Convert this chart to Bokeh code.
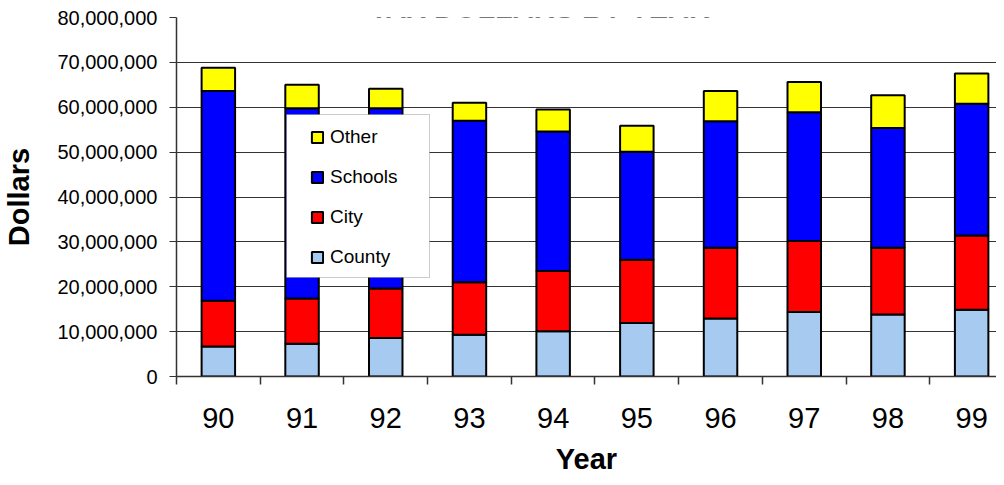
import numpy as np
from bokeh.plotting import figure
from bokeh.models import (ColumnDataSource, Range1d, FixedTicker, SingleIntervalTicker,
                          NumeralTickFormatter, Legend, LegendItem, BoxAnnotation, Label)
from bokeh.embed import file_html
from bokeh.resources import INLINE

title_text = "TAX DOLLARS BY YEAR"
x_title = "Year"
y_title = "Dollars"
years = ["90", "91", "92", "93", "94", "95", "96", "97", "98", "99"]
county = [6.7e6, 7.3e6, 8.6e6, 9.3e6, 10.1e6, 11.9e6, 12.9e6, 14.4e6, 13.8e6, 14.9e6]
city = [10.2e6, 10.1e6, 11.0e6, 11.7e6, 13.4e6, 14.1e6, 15.8e6, 15.8e6, 14.9e6, 16.5e6]
schools = [46.7e6, 42.4e6, 40.2e6, 36.0e6, 31.1e6, 24.1e6, 28.2e6, 28.7e6, 26.7e6, 29.4e6]
other = [5.2e6, 5.2e6, 4.3e6, 4.0e6, 4.9e6, 5.8e6, 6.7e6, 6.7e6, 7.3e6, 6.7e6]
series = ["County", "City", "Schools", "Other"]
colors = ["#A6CAF0", "#FF0000", "#0000FF", "#FFFF00"]

FONT = "Liberation Sans"

x = np.arange(len(years)) + 0.5
src = ColumnDataSource(dict(x=x, County=county, City=city, Schools=schools, Other=other))

W, H = 996, 477
p = figure(width=W, height=H, output_backend="svg", toolbar_location=None,
           x_range=Range1d(0, 9.797), y_range=Range1d(0, 80_000_000),
           min_border_left=176, min_border_right=0, min_border_top=17, min_border_bottom=100)
p.outline_line_color = None
p.background_fill_color = "white"
p.border_fill_color = "white"

renderers = p.vbar_stack(series, x="x", width=0.4, source=src, color=colors,
                         line_color="black", line_width=2)

# axes
p.xgrid.grid_line_color = None
p.ygrid.grid_line_color = "#333333"
p.ygrid.grid_line_width = 1
p.ygrid.ticker = SingleIntervalTicker(interval=10_000_000, num_minor_ticks=0)

ya = p.yaxis[0]
ya.ticker = SingleIntervalTicker(interval=10_000_000, num_minor_ticks=0)
ya.formatter = NumeralTickFormatter(format="0,0")
ya.major_label_text_font = FONT
ya.major_label_text_font_size = "20px"
ya.major_label_text_color = "black"
ya.major_tick_out = 7
ya.major_tick_in = 0
ya.major_label_standoff = 12
ya.minor_tick_line_color = None
ya.axis_line_color = "#333333"
ya.axis_line_width = 1.5
ya.major_tick_line_color = "#333333"
ya.axis_label = y_title
ya.axis_label_text_font = FONT
ya.axis_label_text_font_style = "bold"
ya.axis_label_text_font_size = "29px"
ya.axis_label_text_color = "black"
ya.axis_label_standoff = 19

xa = p.xaxis[0]
xa.ticker = FixedTicker(ticks=list(x), minor_ticks=list(range(len(years) + 1)))
xa.major_label_overrides = {float(v): y for v, y in zip(x, years)}
xa.major_tick_line_color = None
xa.minor_tick_out = 8
xa.minor_tick_in = 0
xa.minor_tick_line_color = "#333333"
xa.minor_tick_line_width = 1.5
xa.axis_line_color = "#333333"
xa.axis_line_width = 1.5
xa.major_label_text_font = FONT
xa.major_label_text_font_size = "29px"
xa.major_label_text_color = "black"
xa.major_label_standoff = 23
xa.axis_label = x_title
xa.axis_label_text_font = FONT
xa.axis_label_text_font_style = "bold"
xa.axis_label_text_font_size = "29px"
xa.axis_label_text_color = "black"
xa.axis_label_standoff = 12

# legend box and legend
box = BoxAnnotation(left=110, right=253, bottom=99, top=262,
                    left_units="screen", right_units="screen",
                    bottom_units="screen", top_units="screen",
                    fill_color="white", fill_alpha=1.0,
                    line_color="#555555", line_width=1)
p.add_layout(box)

items = [LegendItem(label=s, renderers=[r]) for s, r in zip(series, renderers)][::-1]
legend = Legend(items=items, location=(134, 108), orientation="vertical",
                glyph_width=14, glyph_height=14, label_standoff=6,
                label_height=22, spacing=18, padding=12,
                border_line_color=None, background_fill_alpha=0,
                label_text_font=FONT, label_text_font_size="19px",
                label_text_color="black")
p.add_layout(legend)

title = Label(x=364, y=369, x_units="screen", y_units="screen", text=title_text,
              text_font=FONT, text_font_style="bold", text_font_size="29px",
              text_align="center", text_baseline="alphabetic", text_color="black")
p.add_layout(title)

open("out.html", "w").write(file_html(p, INLINE))
